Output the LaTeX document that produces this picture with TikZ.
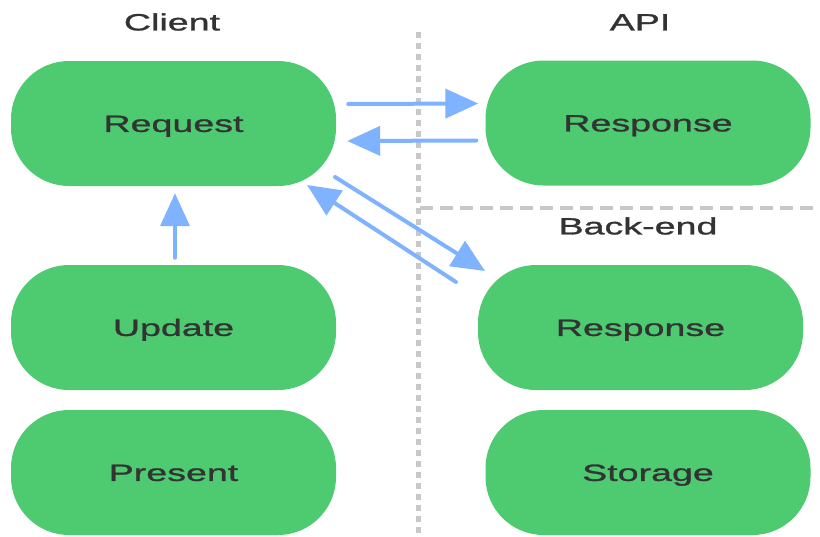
\documentclass[tikz,border=0pt]{standalone}
\usepackage{fontspec}
\setmainfont[FakeStretch=1.6,FakeBold=1.2]{Liberation Sans}
\usetikzlibrary{arrows.meta,calc}
\definecolor{boxgreen}{HTML}{4ECB71}
\definecolor{arrblue}{HTML}{80B3FF}
\definecolor{dashgray}{HTML}{C8C8C8}
\definecolor{txtgray}{HTML}{333333}
\tikzset{
  pill/.style={fill=boxgreen, draw=none, rounded corners=58pt, minimum width=325pt, minimum height=125pt, inner sep=0pt, text=txtgray, text height=16.8pt, text depth=0pt, font=\fontsize{23.5}{28}\selectfont},
  lbl/.style={text=txtgray, inner sep=0pt, text height=16.8pt, text depth=0pt, font=\fontsize{23.5}{28}\selectfont},
  arr/.style={draw=arrblue, line width=4pt, line cap=round, -{Triangle[length=33pt,width=29pt]}},
  vdash/.style={draw=dashgray, line width=5pt, dash pattern=on 6pt off 5pt},
  hdash/.style={draw=dashgray, line width=4pt, dash pattern=on 13pt off 7pt}
}
\begin{document}
\begin{tikzpicture}[x=1pt,y=-1pt]
\useasboundingbox (0,0) rectangle (820,536);
% separators
\coordinate (vtop) at (418,32);
\coordinate (vbot) at (418,540);
\coordinate (hl) at (420,208);
\coordinate (hr) at (822,208);
\draw[vdash] (vtop) -- (vbot);
\draw[hdash] (hl) -- (hr);
% labels
\node[lbl] (client) at (172,22) {Client};
\node[lbl] (api) at (640,22) {API};
\node[lbl] (backend) at (638,226) {Back-end};
% boxes
\node[pill] (req) at (173.5,123.5) {Request};
\node[pill] (apir) at (648,123) {Response};
\node[pill] (upd) at (173.5,327.5) {Update};
\node[pill] (pre) at (173.5,472.5) {Present};
\node[pill] (ber) at (640.5,327.5) {Response};
\node[pill] (sto) at (648,472.5) {Storage};
% connectors
\draw[arr] ([xshift=12pt,yshift=19.5pt]req.east) -- ([xshift=-7pt,yshift=19.5pt]apir.west);
\draw[arr] ([xshift=-9pt,yshift=-17.5pt]apir.west) -- ([xshift=11pt,yshift=-17.5pt]req.east);
\draw[arr] ($(req.center)+(161.5,53.5)$) -- ($(ber.center)+(-155.5,-56.5)$);
\draw[arr] ($(ber.center)+(-184.5,-45.5)$) -- ($(req.center)+(133.5,61.5)$);
\draw[arr] ([xshift=1.5pt,yshift=7pt]upd.north) -- ([xshift=1.5pt,yshift=-7pt]req.south);
\end{tikzpicture}
\end{document}
